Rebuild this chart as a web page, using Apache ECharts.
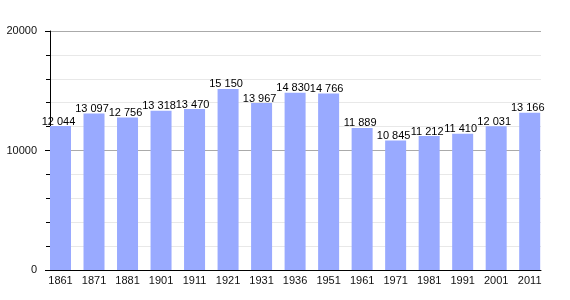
<!DOCTYPE html>
<html><head><meta charset="utf-8">
<script src="https://cdn.jsdelivr.net/npm/echarts@6/dist/echarts.min.js"></script>
<style>html,body{margin:0;padding:0;background:#fff}#c{width:570px;height:300px}</style>
</head><body><div id="c"></div>
<script>
const years = ['1861','1871','1881','1901','1911','1921','1931','1936','1951','1961','1971','1981','1991','2001','2011'];
const population = [12044,13097,12756,13318,13470,15150,13967,14830,14766,11889,10845,11212,11410,12031,13166];
const yTicks = [0, 10000, 20000];

const font = 'Liberation Sans, Arial';
const chart = echarts.init(document.getElementById('c'), null, {renderer:'canvas'});
chart.setOption({
  animation:false,
  grid:[
    {left:50,right:29,top:31,bottom:30},
    {left:60.5,right:40.3,top:31,bottom:30}
  ],
  xAxis:[
    {gridIndex:0,type:'category',data:years,
      axisLine:{lineStyle:{color:'#000',width:1}},
      axisTick:{show:false},axisLabel:{show:false}},
    {gridIndex:1,type:'category',data:years,boundaryGap:false,
      axisLine:{show:false},
      axisTick:{show:false},
      axisLabel:{color:'#111',fontSize:11,fontFamily:font,margin:5}}
  ],
  yAxis:[
    {gridIndex:0,type:'value',min:yTicks[0],max:yTicks[yTicks.length-1],interval:10000,
      axisLine:{show:true,lineStyle:{color:'#000',width:1}},
      axisTick:{show:true,length:5,lineStyle:{color:'#000'}},
      minorTick:{show:true,splitNumber:5,length:4,lineStyle:{color:'#000'}},
      splitLine:{show:true,lineStyle:{color:'#aaaaaa',width:1}},
      minorSplitLine:{show:true,lineStyle:{color:'#e8e8e8',width:1}},
      axisLabel:{color:'#111',fontSize:11,fontFamily:font,margin:13,formatter:v=>String(v)}},
    {gridIndex:1,type:'value',min:yTicks[0],max:yTicks[yTicks.length-1],show:false,
      splitLine:{show:false}}
  ],
  series:[{type:'bar',xAxisIndex:1,yAxisIndex:1,data:population,barWidth:21,
    itemStyle:{color:'#99aaff'},
    label:{show:true,position:'top',distance:0,offset:[-2,1],color:'#000',fontSize:11,fontFamily:font,
      formatter:p=>String(p.value).replace(/\B(?=(\d{3})+(?!\d))/g,' ')}}]
});
</script></body></html>
